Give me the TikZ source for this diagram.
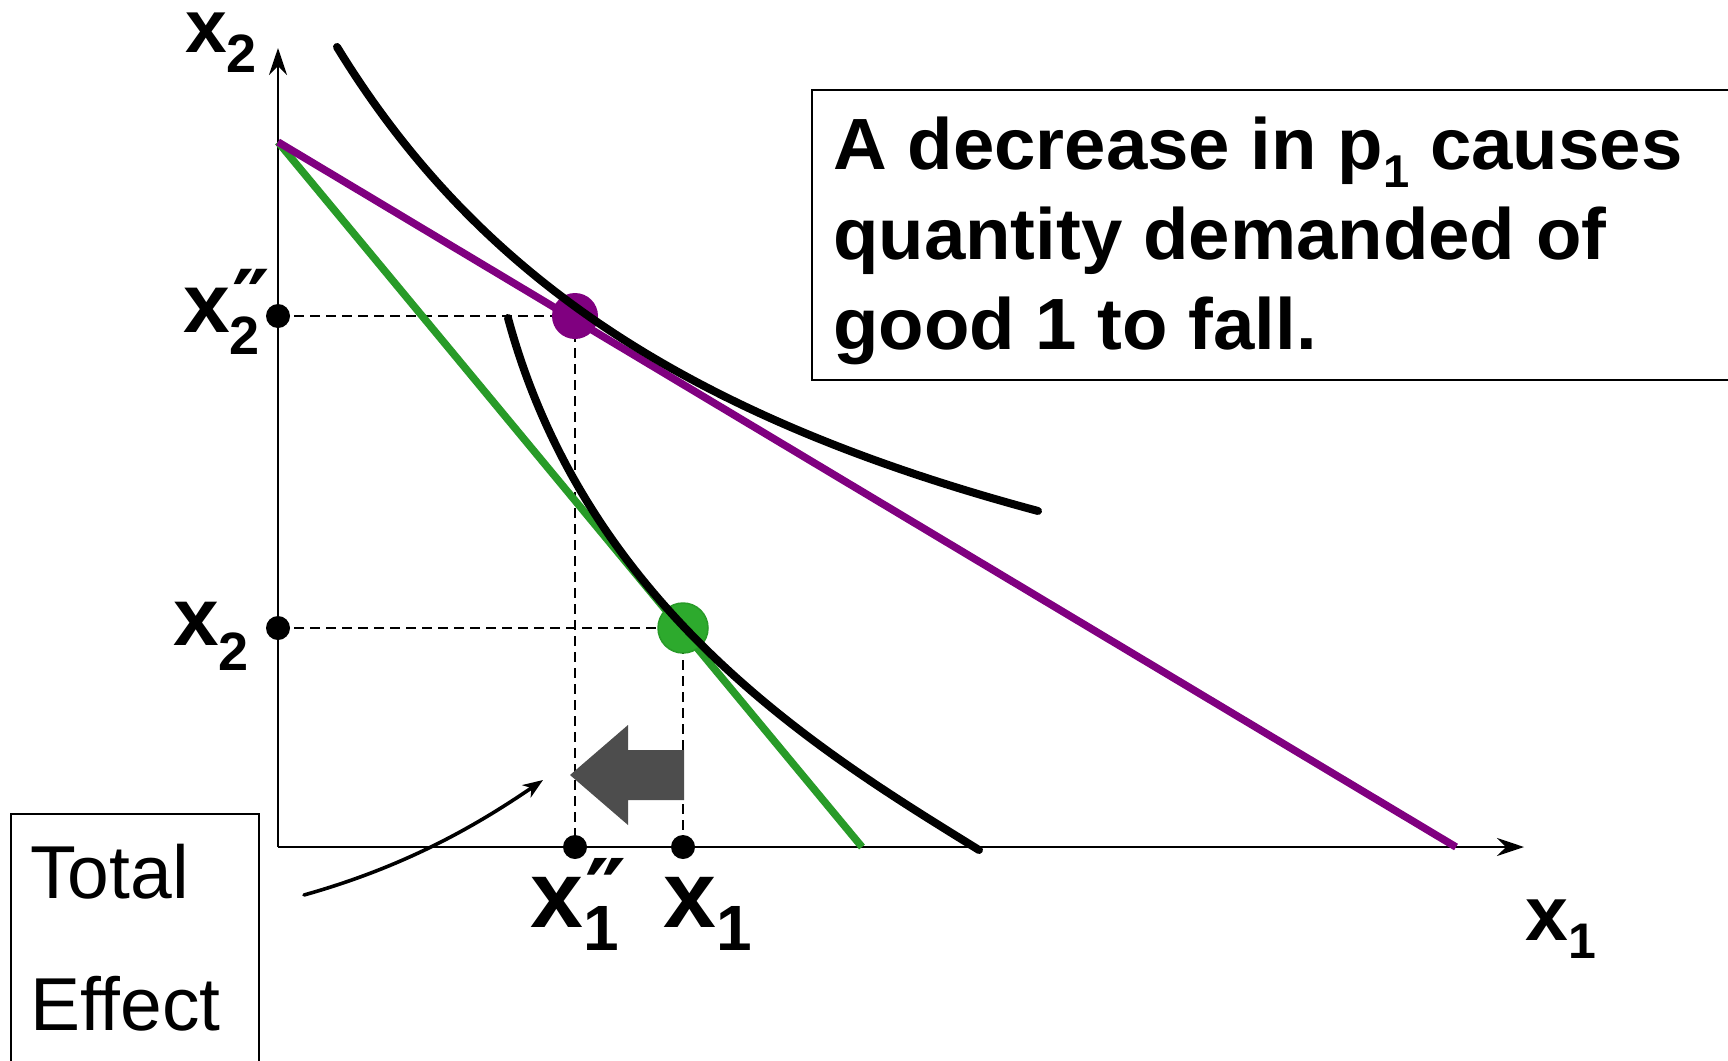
\documentclass[tikz,border=0pt]{standalone}
\usepackage{fontspec}
\setmainfont{Liberation Sans}
\newfontfamily\primefont{DejaVu Sans}
\usetikzlibrary{arrows.meta}
\definecolor{purp}{RGB}{128,0,128}
\definecolor{grn}{RGB}{40,155,40}
\definecolor{grndot}{RGB}{45,170,45}
\definecolor{arrgrey}{RGB}{77,77,77}
\begin{document}
\begin{tikzpicture}[x=1pt,y=-1pt,
  axis/.style={line width=2.6pt},
  budget/.style={line width=7.5pt},
  indiff/.style={line width=8pt, line cap=round},
  guide/.style={line width=2.2pt, dash pattern=on 10pt off 6pt},
  tickdot/.style={circle, fill=black, inner sep=0pt, minimum size=24pt},
  lab/.style={inner sep=0pt, anchor=base west},
  box/.style={draw, line width=2.6pt},
  axtip/.style={-{Stealth[length=27pt,width=18pt,inset=9pt]}}
]
\useasboundingbox (0,0) rectangle (1728,1060);
\fill[white] (0,0) rectangle (1728,1060);

% key points
\coordinate (O) at (278,847);
\coordinate (ytop) at (278,48);
\coordinate (xend) at (1524,847);
\coordinate (B1) at (278,142);
\coordinate (Pend) at (1456,847);
\coordinate (Gend) at (862,847);
\coordinate (pA) at (575,316);
\coordinate (pB) at (683,628);
\coordinate (pY2pp) at (278,316);
\coordinate (pY2) at (278,628);
\coordinate (pX1pp) at (575,847);
\coordinate (pX1) at (683,847);

% dashed guides
\draw[guide] (pY2pp) -- (pA);
\draw[guide] (pA) -- (pX1pp);
\draw[guide] (pY2) -- (pB);
\draw[guide] (pB) -- (pX1);

% axes
\draw[axis, axtip] (O) -- (ytop);
\draw[axis, axtip] (O) -- (xend);

% budget lines
\draw[budget, grn] (B1) -- (Gend);
\draw[budget, purp] (B1) -- (Pend);

% optimum dots
\node[circle, fill=purp, inner sep=0pt, minimum size=46pt] (A) at (pA) {};
\node[circle, fill=grndot, draw=grn, line width=1.5pt, inner sep=0pt, minimum size=50pt] (B) at (pB) {};

% indifference curves
\draw[indiff] plot[domain=337:1038, samples=120] (\x, {827.1 - 3725.89/((\x+140.6)/100)});
\draw[indiff] (508,318) .. controls (588,614) and (829,757) .. (979,850);

% tick dots
\node[tickdot] (ty2pp) at (pY2pp) {};
\node[tickdot] (ty2) at (pY2) {};
\node[tickdot] (tx1pp) at (pX1pp) {};
\node[tickdot] (tx1) at (pX1) {};

% grey block arrow
\fill[arrgrey] (570,775) -- (628,725) -- (628,750) -- (684,750) -- (684,800) -- (628,800) -- (628,825) -- cycle;

% curved pointer
\coordinate (cs) at (304,895);
\coordinate (ce) at (543,780);
\draw[line width=3.6pt, line cap=round, -{Stealth[length=20pt,width=15pt,inset=6pt]}] (cs) .. controls (400,868) and (470,830) .. (ce);

% axis labels
\node[lab] (lx2) at (185,52) {\fontsize{75}{75}\selectfont\bfseries x\raisebox{-20pt}{\fontsize{54}{54}\selectfont 2}};
\node[lab] (lx1) at (1525,940) {\fontsize{77}{77}\selectfont\bfseries x\raisebox{-18pt}{\fontsize{50}{50}\selectfont 1}};

% tick labels
\node[lab] (ly2) at (173,645) {\fontsize{82}{82}\selectfont\bfseries x\raisebox{-25pt}{\fontsize{54}{54}\selectfont 2}};
\node[lab] (ly2pp) at (183,332) {\fontsize{84}{84}\selectfont\bfseries x\rlap{\raisebox{-22pt}{\fontsize{54}{54}\selectfont 2}}\hspace{3pt}\raisebox{2pt}{\primefont\bfseries\fontsize{84}{84}\selectfont ″}};
\node[lab] (lx1pp) at (530,927) {\fontsize{95}{95}\selectfont\bfseries x\rlap{\raisebox{-23pt}{\fontsize{64}{64}\selectfont 1}}\hspace{2pt}\raisebox{2pt}{\primefont\bfseries\fontsize{92}{92}\selectfont ″}};
\node[lab] (lx1) at (663,927) {\fontsize{95}{95}\selectfont\bfseries x\raisebox{-23pt}{\fontsize{64}{64}\selectfont 1}};

% message box
\draw[box] (812,90) rectangle (1745,380);
\node[inner sep=0pt, anchor=north west, align=left, font=\fontsize{72.6}{90}\selectfont\bfseries\addfontfeature{FakeStretch=1.025}] (msg) at (833,117)
  {A decrease in p\raisebox{-18pt}{\fontsize{46}{46}\selectfont 1} causes\\quantity demanded of\\good 1 to fall.};

% total effect box
\draw[box] (11,814) rectangle (259,1080);
\node[inner sep=0pt, anchor=north west, align=left, font=\fontsize{75}{132}\selectfont] (teff) at (30,844) {Total\\Effect};
\end{tikzpicture}
\end{document}
